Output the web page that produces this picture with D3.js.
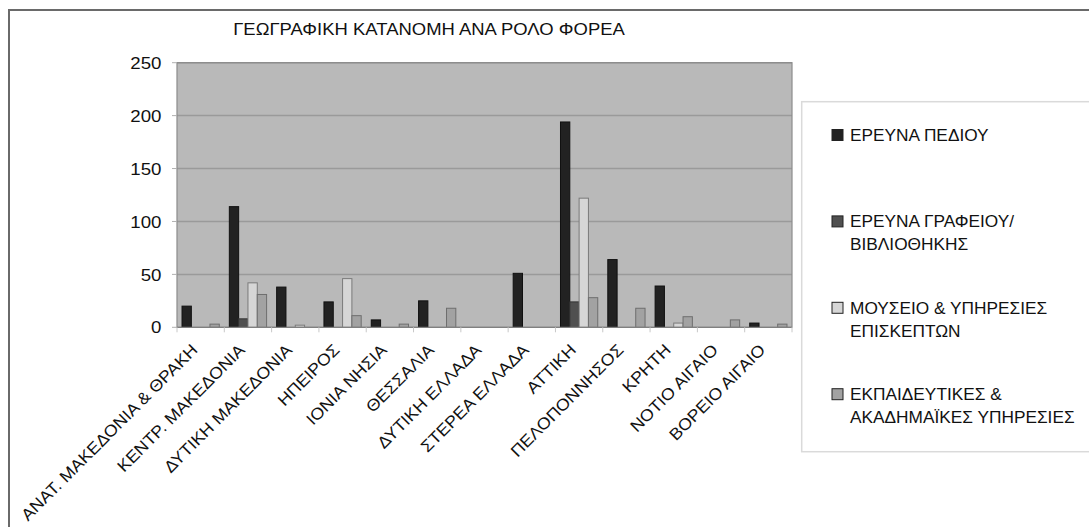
<!DOCTYPE html>
<html><head><meta charset="utf-8">
<script src="https://cdn.jsdelivr.net/npm/d3@7"></script>
<style>body{margin:0;background:#fff}svg{display:block}text{font-family:"Liberation Sans",Arial,sans-serif;fill:#111}</style>
</head><body>
<svg id="c" width="1089" height="527"></svg>
<script>
const title = "ΓΕΩΓΡΑΦΙΚΗ ΚΑΤΑΝΟΜΗ ΑΝΑ ΡΟΛΟ ΦΟΡΕΑ";
const categories = ["ΑΝΑΤ. ΜΑΚΕΔΟΝΙΑ & ΘΡΑΚΗ","ΚΕΝΤΡ. ΜΑΚΕΔΟΝΙΑ","ΔΥΤΙΚΗ ΜΑΚΕΔΟΝΙΑ","ΗΠΕΙΡΟΣ","ΙΟΝΙΑ ΝΗΣΙΑ","ΘΕΣΣΑΛΙΑ","ΔΥΤΙΚΗ ΕΛΛΑΔΑ","ΣΤΕΡΕΑ ΕΛΛΑΔΑ","ΑΤΤΙΚΗ","ΠΕΛΟΠΟΝΝΗΣΟΣ","ΚΡΗΤΗ","ΝΟΤΙΟ ΑΙΓΑΙΟ","ΒΟΡΕΙΟ ΑΙΓΑΙΟ"];
const seriesNames = ["ΕΡΕΥΝΑ ΠΕΔΙΟΥ","ΕΡΕΥΝΑ ΓΡΑΦΕΙΟΥ/ ΒΙΒΛΙΟΘΗΚΗΣ","ΜΟΥΣΕΙΟ & ΥΠΗΡΕΣΙΕΣ ΕΠΙΣΚΕΠΤΩΝ","ΕΚΠΑΙΔΕΥΤΙΚΕΣ & ΑΚΑΔΗΜΑΪΚΕΣ ΥΠΗΡΕΣΙΕΣ"];
const legendLines = [["ΕΡΕΥΝΑ ΠΕΔΙΟΥ"],["ΕΡΕΥΝΑ ΓΡΑΦΕΙΟΥ/","ΒΙΒΛΙΟΘΗΚΗΣ"],["ΜΟΥΣΕΙΟ & ΥΠΗΡΕΣΙΕΣ","ΕΠΙΣΚΕΠΤΩΝ"],["ΕΚΠΑΙΔΕΥΤΙΚΕΣ &","ΑΚΑΔΗΜΑΪΚΕΣ ΥΠΗΡΕΣΙΕΣ"]];
const fieldResearch = [20,114,38,24,7,25,0,51,194,64,39,0,4];
const officeLibrary = [0,8,0,0,0,0,0,0,24,0,0,0,0];
const museumVisitors = [0,42,2,46,0,0,0,0,122,0,4,0,0];
const educationAcademic = [3,31,0,11,3,18,0,0,28,18,10,7,3];
const yTicks = [0,50,100,150,200,250];
const seriesValues = [fieldResearch, officeLibrary, museumVisitors, educationAcademic];
const fills = ["#222222","#505050","#d6d6d6","#a2a2a2"];
const strokes = ["#111111","#333333","#7a7a7a","#6e6e6e"];

(function(){
const svg = d3.select("#c");
const SX = 1.1;
svg.append("rect").attr("x",9).attr("y",10).attr("width",1200).attr("height",700)
  .attr("fill","#fff").attr("stroke","#6a6a6a").attr("stroke-width",2);

const pL=177, pR=792, pT=62.7, pB=327.3;
const x = d3.scaleBand().domain(categories).range([pL,pR]).padding(0);
const xs = d3.scaleBand().domain(d3.range(4)).range([0,x.bandwidth()]).paddingInner(0).paddingOuter(0.54);
const y = d3.scaleLinear().domain([0,250]).range([pB,pT]);

svg.append("rect").attr("x",pL).attr("y",pT).attr("width",pR-pL).attr("height",pB-pT)
  .attr("fill","#b9b9b9");
svg.append("g").selectAll("line").data(yTicks.slice(1)).join("line")
  .attr("x1",pL).attr("x2",pR).attr("y1",d=>y(d)).attr("y2",d=>y(d))
  .attr("stroke","#9a9a9a").attr("stroke-width",1.5);
svg.append("rect").attr("x",pL).attr("y",pT).attr("width",pR-pL).attr("height",pB-pT)
  .attr("fill","none").attr("stroke","#8c8c8c").attr("stroke-width",1.2);

const data = [];
categories.forEach((c,i)=>seriesValues.forEach((arr,s)=>data.push({c,s,v:arr[i]})));
svg.append("g").selectAll("rect").data(data.filter(d=>d.v>0)).join("rect")
  .attr("x",d=>x(d.c)+xs(d.s)).attr("width",xs.bandwidth())
  .attr("y",d=>y(d.v)).attr("height",d=>pB-y(d.v))
  .attr("fill",d=>fills[d.s]).attr("stroke",d=>strokes[d.s]).attr("stroke-width",1);

svg.append("line").attr("x1",pL).attr("x2",pR).attr("y1",pB).attr("y2",pB)
  .attr("stroke","#808080").attr("stroke-width",1.2);
const bounds = categories.map(c=>x(c)).concat([pR]);
svg.append("g").selectAll("line").data(bounds).join("line")
  .attr("x1",d=>d).attr("x2",d=>d).attr("y1",pB).attr("y2",pB+5)
  .attr("stroke","#c8c8c8").attr("stroke-width",1);
svg.append("g").selectAll("line").data(yTicks).join("line")
  .attr("x1",pL-5).attr("x2",pL).attr("y1",d=>y(d)).attr("y2",d=>y(d))
  .attr("stroke","#b0b0b0").attr("stroke-width",1);
svg.append("g").selectAll("text").data(yTicks).join("text")
  .attr("transform",d=>`translate(161.5,${y(d)}) scale(${SX},1)`)
  .attr("text-anchor","end").attr("dy","0.36em").attr("font-size",17).text(d=>d);

svg.append("g").selectAll("text").data(categories).join("text")
  .attr("transform",c=>`translate(${x(c)+x.bandwidth()/2-2},351) rotate(-45) scale(1.08,1)`)
  .attr("text-anchor","end").attr("font-size",16.5).text(c=>c);

svg.append("text").attr("transform",`translate(429,35) scale(1.12,1)`)
  .attr("text-anchor","middle").attr("font-size",16.5).text(title);

svg.append("rect").attr("x",801.7).attr("y",101.7).attr("width",400).attr("height",350)
  .attr("fill","#fff").attr("stroke","#dadada").attr("stroke-width",1.5);
const lg = svg.append("g").selectAll("g").data(seriesNames).join("g")
  .attr("transform",(d,i)=>`translate(0,${141+i*86.4})`);
lg.append("rect").attr("x",832).attr("y",-11.5).attr("width",11).attr("height",11)
  .attr("fill",(d,i)=>fills[i]).attr("stroke","#222").attr("stroke-width",1);
lg.each(function(d,i){
  const g = d3.select(this);
  legendLines[i].forEach((ln,j)=>{
    g.append("text").attr("transform",`translate(850,${j*22.7}) scale(1.08,1)`)
      .attr("font-size",16).text(ln);
  });
});
})();
</script>
</body></html>
